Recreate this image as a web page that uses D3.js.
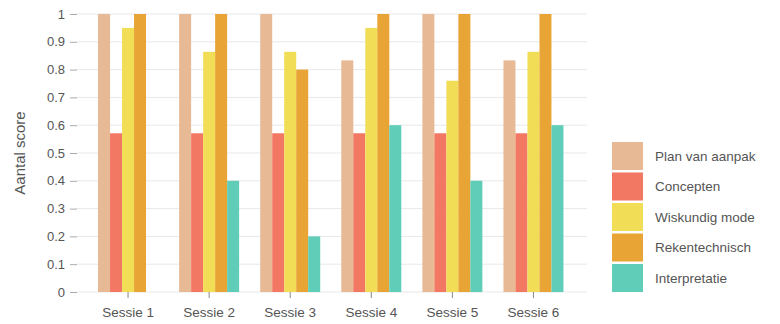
<!DOCTYPE html>
<html>
<head>
<meta charset="utf-8">
<script src="https://cdn.jsdelivr.net/npm/d3@7"></script>
<style>
  html, body { margin: 0; padding: 0; background: #fff; }
  svg { display: block; font-family: "Liberation Sans", Arial, sans-serif; }
</style>
</head>
<body>
<svg id="chart" width="780" height="324"></svg>
<script>
// Sessions on the x axis
const sessions = ["Sessie 1", "Sessie 2", "Sessie 3", "Sessie 4", "Sessie 5", "Sessie 6"];
// Score components (series)
const components = ["Plan van aanpak", "Concepten", "Wiskundig mode", "Rekentechnisch", "Interpretatie"];
const componentColors = ["#e7b995", "#f37864", "#f1dd56", "#e8a536", "#5fcdb7"];
// Scores per component, one value per session
const planVanAanpak   = [1, 1, 1, 0.833, 1, 0.833];
const concepten       = [0.571, 0.571, 0.571, 0.571, 0.571, 0.571];
const wiskundigModel  = [0.95, 0.864, 0.864, 0.95, 0.76, 0.864];
const rekentechnisch  = [1, 1, 0.8, 1, 1, 1];
const interpretatie   = [0, 0.4, 0.2, 0.6, 0.4, 0.6];
const seriesValues = [planVanAanpak, concepten, wiskundigModel, rekentechnisch, interpretatie];
// Y axis ticks
const yTicks = [0, 0.1, 0.2, 0.3, 0.4, 0.5, 0.6, 0.7, 0.8, 0.9, 1];

const svg = d3.select("#chart");
const gridLeft = 77, gridRight = 587;

const x = d3.scaleBand().domain(sessions).range([87.5, 574]).paddingInner(0.26).paddingOuter(0.13);
const xInner = d3.scaleBand().domain(components).range([0, x.bandwidth()]);
const y = d3.scaleLinear().domain([0, 1]).range([292, 14]);

// Horizontal grid lines
svg.append("g").selectAll("line").data(yTicks).join("line")
  .attr("x1", gridLeft).attr("x2", gridRight)
  .attr("y1", d => y(d)).attr("y2", d => y(d))
  .attr("stroke", "#e8e8e8").attr("stroke-width", 1);

// Y axis (labels + small ticks)
const yAxis = svg.append("g").attr("transform", `translate(${gridLeft},0)`)
  .call(d3.axisLeft(y).tickValues(yTicks).tickFormat(d => d3.format("")(+d.toFixed(1))).tickSize(7).tickPadding(5));
yAxis.select(".domain").remove();
yAxis.selectAll(".tick line").attr("stroke", "#aaa");
yAxis.selectAll(".tick text").attr("fill", "#555").attr("font-size", 13);

// Bars
const groups = svg.append("g").selectAll("g").data(sessions).join("g")
  .attr("transform", d => `translate(${x(d)},0)`);
groups.selectAll("rect")
  .data((s, i) => components.map((c, k) => ({ c, k, v: seriesValues[k][i] })))
  .join("rect")
  .attr("x", d => xInner(d.c))
  .attr("width", xInner.bandwidth())
  .attr("y", d => y(d.v))
  .attr("height", d => y(0) - y(d.v))
  .attr("fill", d => componentColors[d.k]);

// X axis
const xAxis = svg.append("g").attr("transform", `translate(0,${y(0)})`)
  .call(d3.axisBottom(x).tickSize(6).tickPadding(9));
xAxis.select(".domain").remove();
xAxis.selectAll(".tick line").attr("stroke", "#888");
xAxis.selectAll(".tick text").attr("fill", "#555").attr("font-size", 13.5);

// Y axis title
svg.append("text")
  .attr("transform", `translate(25,${y(0.5)}) rotate(-90)`)
  .attr("text-anchor", "middle")
  .attr("fill", "#555").attr("font-size", 15)
  .text("Aantal score");

// Legend
const legend = svg.append("g").attr("transform", "translate(612,142)");
const item = legend.selectAll("g").data(components).join("g")
  .attr("transform", (d, i) => `translate(0,${i * 30.5})`);
item.append("rect").attr("width", 31).attr("height", 28)
  .attr("fill", (d, i) => componentColors[i]);
item.append("text").attr("x", 43).attr("y", 14).attr("dy", "0.35em")
  .attr("fill", "#555").attr("font-size", 13.5)
  .text(d => d);
</script>
</body>
</html>
